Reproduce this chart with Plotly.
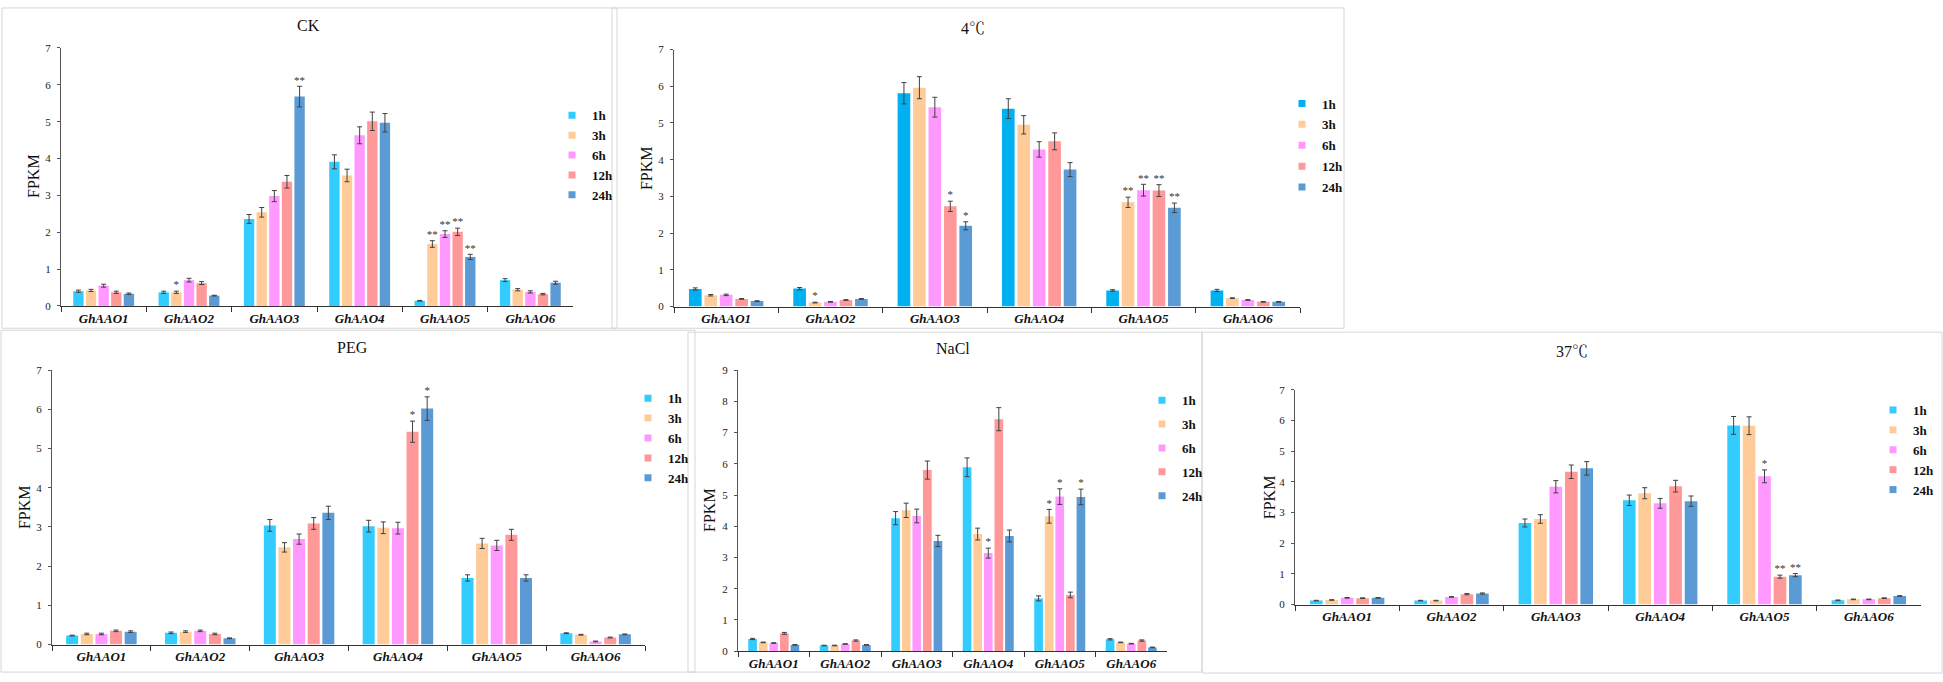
import plotly.graph_objects as go

W, H = 1943, 682

def fx(x):
    return x / W

def fy(y):
    return 1 - y / H

genes = ["GhAAO1", "GhAAO2", "GhAAO3", "GhAAO4", "GhAAO5", "GhAAO6"]
times = ["1h", "3h", "6h", "12h", "24h"]

# ---------------- CK ----------------
ck_val = {
    "1h": [0.40, 0.37, 2.36, 3.91, 0.14, 0.70],
    "3h": [0.42, 0.37, 2.54, 3.54, 1.68, 0.44],
    "6h": [0.55, 0.70, 2.98, 4.63, 1.95, 0.38],
    "12h": [0.37, 0.62, 3.37, 5.01, 2.01, 0.32],
    "24h": [0.33, 0.28, 5.68, 4.97, 1.33, 0.63],
}
ck_err = {
    "1h": [0.03, 0.03, 0.12, 0.19, 0.01, 0.04],
    "3h": [0.03, 0.03, 0.13, 0.17, 0.09, 0.03],
    "6h": [0.04, 0.05, 0.15, 0.23, 0.09, 0.03],
    "12h": [0.03, 0.04, 0.17, 0.25, 0.10, 0.02],
    "24h": [0.02, 0.01, 0.28, 0.25, 0.07, 0.04],
}
ck_star = {
    "1h": ["", "", "", "", "", ""],
    "3h": ["", "*", "", "", "**", ""],
    "6h": ["", "", "", "", "**", ""],
    "12h": ["", "", "", "", "**", ""],
    "24h": ["", "", "**", "", "**", ""],
}

# ---------------- 4 C ----------------
c4_val = {
    "1h": [0.48, 0.49, 5.81, 5.39, 0.44, 0.44],
    "3h": [0.31, 0.11, 5.96, 4.95, 2.84, 0.23],
    "6h": [0.32, 0.13, 5.43, 4.28, 3.17, 0.18],
    "12h": [0.21, 0.18, 2.73, 4.50, 3.16, 0.13],
    "24h": [0.15, 0.21, 2.20, 3.73, 2.69, 0.13],
}
c4_err = {
    "1h": [0.03, 0.03, 0.29, 0.27, 0.02, 0.03],
    "3h": [0.02, 0.01, 0.30, 0.25, 0.14, 0.01],
    "6h": [0.02, 0.01, 0.27, 0.21, 0.16, 0.01],
    "12h": [0.01, 0.01, 0.14, 0.23, 0.16, 0.01],
    "24h": [0.01, 0.01, 0.11, 0.19, 0.13, 0.01],
}
c4_star = {
    "1h": ["", "", "", "", "", ""],
    "3h": ["", "*", "", "", "**", ""],
    "6h": ["", "", "", "", "**", ""],
    "12h": ["", "", "*", "", "**", ""],
    "24h": ["", "", "*", "", "**", ""],
}

# ---------------- PEG ----------------
peg_val = {
    "1h": [0.23, 0.30, 3.04, 3.02, 1.70, 0.29],
    "3h": [0.27, 0.33, 2.48, 2.98, 2.58, 0.25],
    "6h": [0.27, 0.35, 2.69, 2.97, 2.53, 0.08],
    "12h": [0.35, 0.27, 3.09, 5.43, 2.80, 0.18],
    "24h": [0.33, 0.16, 3.36, 6.02, 1.70, 0.26],
}
peg_err = {
    "1h": [0.01, 0.02, 0.15, 0.15, 0.08, 0.01],
    "3h": [0.02, 0.02, 0.12, 0.15, 0.13, 0.01],
    "6h": [0.02, 0.02, 0.13, 0.15, 0.13, 0.01],
    "12h": [0.02, 0.02, 0.15, 0.27, 0.14, 0.01],
    "24h": [0.02, 0.01, 0.17, 0.30, 0.08, 0.01],
}
peg_star = {
    "1h": ["", "", "", "", "", ""],
    "3h": ["", "", "", "", "", ""],
    "6h": ["", "", "", "", "", ""],
    "12h": ["", "", "", "*", "", ""],
    "24h": ["", "", "", "*", "", ""],
}

# ---------------- NaCl ----------------
nacl_val = {
    "1h": [0.39, 0.18, 4.26, 5.89, 1.69, 0.38],
    "3h": [0.28, 0.18, 4.51, 3.75, 4.32, 0.28],
    "6h": [0.26, 0.23, 4.33, 3.14, 4.95, 0.24],
    "12h": [0.57, 0.34, 5.80, 7.43, 1.80, 0.34],
    "24h": [0.20, 0.20, 3.53, 3.69, 4.94, 0.12],
}
nacl_err = {
    "1h": [0.02, 0.01, 0.21, 0.30, 0.08, 0.02],
    "3h": [0.01, 0.01, 0.23, 0.19, 0.22, 0.01],
    "6h": [0.01, 0.01, 0.22, 0.16, 0.25, 0.01],
    "12h": [0.03, 0.02, 0.29, 0.37, 0.09, 0.02],
    "24h": [0.01, 0.01, 0.18, 0.19, 0.25, 0.01],
}
nacl_star = {
    "1h": ["", "", "", "", "", ""],
    "3h": ["", "", "", "", "*", ""],
    "6h": ["", "", "", "*", "*", ""],
    "12h": ["", "", "", "", "", ""],
    "24h": ["", "", "", "", "*", ""],
}

# ---------------- 37 C ----------------
c37_val = {
    "1h": [0.13, 0.13, 2.66, 3.40, 5.84, 0.14],
    "3h": [0.15, 0.13, 2.79, 3.63, 5.83, 0.17],
    "6h": [0.22, 0.25, 3.84, 3.30, 4.18, 0.17],
    "12h": [0.21, 0.34, 4.33, 3.86, 0.91, 0.21],
    "24h": [0.22, 0.36, 4.44, 3.37, 0.96, 0.28],
}
c37_err = {
    "1h": [0.01, 0.01, 0.13, 0.17, 0.29, 0.01],
    "3h": [0.01, 0.01, 0.14, 0.18, 0.29, 0.01],
    "6h": [0.01, 0.01, 0.20, 0.16, 0.21, 0.01],
    "12h": [0.01, 0.02, 0.22, 0.19, 0.05, 0.01],
    "24h": [0.01, 0.02, 0.22, 0.17, 0.05, 0.01],
}
c37_star = {
    "1h": ["", "", "", "", "", ""],
    "3h": ["", "", "", "", "", ""],
    "6h": ["", "", "", "", "*", ""],
    "12h": ["", "", "", "", "**", ""],
    "24h": ["", "", "", "", "**", ""],
}

colors = {"1h": "#33CCFF", "3h": "#FFCC99", "6h": "#FF99FF", "12h": "#FF9999", "24h": "#5B9BD5"}
colors_4c = {"1h": "#00B0F0", "3h": "#FFCC99", "6h": "#FF99FF", "12h": "#FF9999", "24h": "#5B9BD5"}

SERIF = "Liberation Serif, Times New Roman, Noto Serif CJK SC, Noto Sans CJK SC, serif"

panels = [
    dict(title="CK", val=ck_val, err=ck_err, star=ck_star, cols=colors, ymax=7,
         box=(2, 2, 617, 328), plot=(61, 42.7, 573, 305.3),
         tpos=(308, 20), ypos=(34, 173), leg=(552, 96), lgap=0),
    dict(title="4℃", val=c4_val, err=c4_err, star=c4_star, cols=colors_4c, ymax=7,
         box=(612, 2, 1344, 328), plot=(674, 44.3, 1300, 306),
         tpos=(973, 23), ypos=(646, 165), leg=(1282, 84), lgap=1),
    dict(title="PEG", val=peg_val, err=peg_err, star=peg_star, cols=colors, ymax=7,
         box=(1, 330, 695, 678), plot=(52, 370.7, 645, 650),
         tpos=(352, 348), ypos=(24, 510), leg=(628, 384), lgap=0),
    dict(title="NaCl", val=nacl_val, err=nacl_err, star=nacl_star, cols=colors, ymax=9,
         box=(688, 332, 1202, 678), plot=(738, 370.7, 1167, 656.7),
         tpos=(953, 349), ypos=(710, 513), leg=(1142, 386), lgap=4),
    dict(title="37℃", val=c37_val, err=c37_err, star=c37_star, cols=colors, ymax=7,
         box=(1202, 332, 1942, 679), plot=(1295, 390.7, 1921, 609.3),
         tpos=(1572, 352), ypos=(1269, 500), leg=(1873, 396), lgap=0),
]

fig = go.Figure()
layout = dict(
    width=W, height=H, margin=dict(l=0, r=0, t=0, b=0),
    paper_bgcolor="white", plot_bgcolor="white",
    barmode="group", bargap=0.26, bargroupgap=0.18,
    scattermode="group", scattergap=0.26,
    font=dict(family=SERIF, color="#222222"),
)
shapes = []
annotations = []

for i, p in enumerate(panels, start=1):
    suf = "" if i == 1 else str(i)
    xa, ya = "x" + suf, "y" + suf
    lg = "legend" + suf
    for t in times:
        fig.add_trace(go.Bar(
            x=genes, y=p["val"][t], name=t,
            marker=dict(color=p["cols"][t], line=dict(width=0)),
            error_y=dict(type="data", array=p["err"][t], color="#404040", thickness=1, width=2.5),
            offsetgroup=t, legendgroup=f"p{i}{t}", legend=lg, showlegend=False,
            xaxis=xa, yaxis=ya, hoverinfo="skip",
        ))
    for t in times:
        # significance marks placed on top of each error bar
        fig.add_trace(go.Scatter(
            x=genes, y=[v + e for v, e in zip(p["val"][t], p["err"][t])],
            text=p["star"][t], mode="text", textposition="top center",
            textfont=dict(size=11, color="#333333", family=SERIF),
            offsetgroup=t, legendgroup=f"p{i}{t}", legend=lg, showlegend=False,
            xaxis=xa, yaxis=ya, hoverinfo="skip",
        ))
    for t in times:
        # legend entries with small square keys
        fig.add_trace(go.Scatter(
            x=[None], y=[None], name=t, mode="markers",
            marker=dict(symbol="square", size=7, color=p["cols"][t]),
            offsetgroup=t, legendgroup=f"p{i}{t}", legend=lg, showlegend=True,
            xaxis=xa, yaxis=ya, hoverinfo="skip",
        ))
    x0, y0, x1, y1 = p["plot"]
    layout["xaxis" + suf] = dict(
        domain=[fx(x0), fx(x1)], anchor=ya, type="category",
        showline=True, linecolor="#333333", linewidth=1,
        ticks="outside", tickson="boundaries", ticklen=5, tickcolor="#333333",
        showgrid=False, zeroline=False, fixedrange=True,
        tickfont=dict(family=SERIF, size=13, color="#111111", weight="bold", style="italic"),
    )
    layout["yaxis" + suf] = dict(
        domain=[fy(y1), fy(y0)], anchor=xa, range=[0, p["ymax"]], dtick=1,
        showline=True, linecolor="#555555", linewidth=1,
        ticks="outside", ticklen=3, tickcolor="#555555", ticklabelstandoff=4,
        showgrid=False, zeroline=False, fixedrange=True,
        tickfont=dict(family=SERIF, size=11, color="#222222"),
    )
    lx, ly = p["leg"]
    layout[lg] = dict(
        x=fx(lx), y=fy(ly), xanchor="left", yanchor="top",
        bgcolor="rgba(0,0,0,0)", borderwidth=0, tracegroupgap=p["lgap"],
        font=dict(family=SERIF, size=13, color="#111111", weight="bold"),
        itemclick=False, itemdoubleclick=False,
    )
    bx0, by0, bx1, by1 = p["box"]
    shapes.append(dict(type="rect", xref="paper", yref="paper",
                       x0=fx(bx0), x1=fx(bx1), y0=fy(by1), y1=fy(by0),
                       line=dict(color="#D6D6D6", width=1), layer="below"))
    tx, ty = p["tpos"]
    annotations.append(dict(text=p["title"], xref="paper", yref="paper",
                            x=fx(tx), y=fy(ty), showarrow=False,
                            xanchor="center", yanchor="middle",
                            font=dict(family=SERIF, size=16, color="#111111")))
    px_, py_ = p["ypos"]
    annotations.append(dict(text="FPKM", xref="paper", yref="paper",
                            x=fx(px_), y=fy(py_), showarrow=False, textangle=-90,
                            xanchor="center", yanchor="middle",
                            font=dict(family=SERIF, size=16, color="#111111")))

layout["shapes"] = shapes
layout["annotations"] = annotations
fig.update_layout(**layout)
fig.write_html("out.html", config={"displayModeBar": False},
               post_script="document.body.style.margin='0';document.body.style.overflow='hidden';")
